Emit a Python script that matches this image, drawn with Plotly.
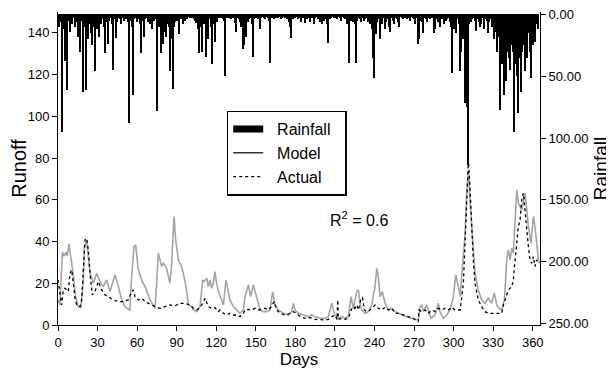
import plotly.graph_objects as go

# Daily rainfall (day 0 .. 364)
rain = [
    4, 10, 6, 95, 12, 38, 8, 61, 5, 14, 4, 8, 3, 10, 6, 18, 8, 30, 5, 63, 10, 61, 12, 20, 8, 15, 25, 10, 46, 6,
    12, 18, 5, 8, 4, 10, 31, 6, 24, 5, 3, 8, 45, 4, 19, 6, 3, 4, 8, 3, 5, 3, 4, 6, 88, 5, 10, 65, 4, 3,
    6, 4, 8, 31, 5, 18, 4, 3, 6, 4, 8, 12, 3, 5, 4, 78, 6, 10, 31, 8, 24, 14, 18, 8, 10, 46, 20, 60, 10, 6,
    5, 4, 16, 4, 3, 8, 5, 3, 4, 2, 3, 2, 3, 4, 5, 7, 12, 31, 10, 30, 5, 8, 34, 6, 20, 4, 10, 40, 8, 22,
    4, 6, 3, 2, 3, 4, 5, 50, 3, 2, 3, 4, 2, 3, 7, 14, 3, 4, 6, 10, 28, 25, 8, 18, 6, 4, 3, 8, 34, 4,
    3, 2, 4, 12, 3, 2, 3, 4, 2, 3, 5, 39, 3, 2, 4, 3, 2, 3, 2, 4, 3, 2, 3, 2, 4, 6, 10, 19, 4, 2,
    3, 2, 4, 3, 6, 2, 3, 7, 2, 4, 3, 6, 2, 3, 8, 3, 2, 4, 3, 6, 8, 3, 5, 4, 8, 23, 4, 3, 2, 3,
    2, 3, 4, 2, 3, 5, 2, 3, 4, 8, 6, 39, 5, 3, 6, 8, 39, 5, 3, 4, 6, 3, 5, 4, 3, 6, 4, 8, 12, 35,
    51, 16, 6, 4, 20, 5, 8, 3, 12, 6, 4, 10, 14, 3, 5, 8, 3, 4, 6, 10, 2, 3, 4, 3, 2, 4, 3, 5, 2, 3,
    4, 8, 3, 24, 20, 5, 6, 15, 3, 4, 6, 3, 4, 2, 3, 15, 12, 4, 6, 3, 10, 4, 3, 8, 5, 4, 3, 6, 10, 47,
    12, 6, 15, 4, 8, 46, 30, 20, 12, 72, 75, 122, 8, 6, 4, 3, 5, 13, 4, 6, 10, 8, 3, 12, 4, 5, 15, 6, 4, 10,
    8, 20, 14, 30, 18, 77, 25, 40, 65, 20, 54, 30, 35, 45, 25, 30, 95, 40, 50, 80, 35, 63, 30, 25, 46, 20, 35, 15, 30, 51,
    25, 10, 22, 8, 12,
]
rain_days = list(range(len(rain)))

model_days = [
    0, 1.5, 3.3, 4.5, 6, 7, 8.3, 10, 11.6, 13.4, 15.4, 17.4, 19.2, 20, 21.7, 24.3, 26.8, 29.3, 31.9, 34.4,
    36.9, 39.4, 43.2, 45.8, 48.3, 50.8, 53.3, 54.5, 55.5, 57.6, 58.9, 60.9, 63.9, 66, 69.8, 73.6, 74.8, 76.1,
    78.6, 79.9, 82.4, 84.9, 86.2, 88, 89.2, 91.3, 93.3, 95, 97.1, 98.9, 101.4,
    102.6, 105.2, 107.7, 109.7, 110.7, 112.8, 114, 115.3, 116.5, 117.8, 119, 120.3, 121.6, 124.1, 125.4,
    127.4, 129.2, 130.4, 133, 135.5, 138, 140.6, 141.8, 144.4, 146.1, 148.1, 150.7, 153.2, 155.7, 158.2,
    160.8, 162.8, 164.6, 167.1, 170.9, 174.7, 177.2, 178.5, 179.7, 182.3, 186, 189.9, 192.4, 194.9, 198.7,
    202.5, 205.1,
    206.3, 207.5, 208.8, 210.1, 212.6, 215.1, 217.7, 220.2, 222.2, 224, 226.5, 227.8, 229, 230.3, 232.8,
    235.4, 237.9, 240.4, 241.7, 242.9, 244.2, 246, 248, 250.6, 253.1, 255.6, 258.1, 260.7, 264.4, 268.3,
    270.8, 273.2, 274.6, 275.8, 277.1, 279.6, 280.9, 282.9, 285.9, 288.4, 289.7, 292.2, 294.8, 297.3,
    299.8, 301.6, 303.6, 305,
    306.1, 307.4, 308.7, 309.9, 311.2, 312.4, 313.7, 316.2, 318.7, 321.3, 323.8, 326.3, 328.8, 330.9,
    332.7, 334.4, 336.5, 338.5, 340.3, 341.5, 342.8, 344.1, 345.3, 347.9, 349.1, 351.6, 354.2, 355.4,
    356.7, 358.7, 360.5, 361.7, 363, 364.3, 365,
]
model_runoff = [
    12, 9.6, 35, 33, 35, 33, 39, 32, 24, 13.6, 8.8, 8.3, 20.8, 37.6, 40, 24.8, 20, 24.8, 20.8, 18.4,
    21.6, 16, 24, 18.4, 12, 8.7, 7.5, 7.2, 20, 37.6, 38.4, 26.4, 20.8, 18.4, 12, 8, 20, 34.4,
    28, 29.6, 27.2, 20, 29.6, 52, 41, 31, 28.8, 24.8, 18.4, 9.6, 8.8,
    7.2, 6.4, 8.8, 21.6, 20.8, 22.4, 18.4, 21.6, 17.6, 20, 25.6, 20, 16, 12, 9.6,
    21.6, 16, 12, 8.8, 7.2, 5.6, 7.2, 13.6, 19.2, 13.6, 19.2, 13.6, 7.2, 6.4, 6.4,
    7.2, 16, 9.6, 7.2, 5.6, 4.8, 6.4, 10.4, 7.2, 5.6, 4.8, 4.0, 4.8, 4.0, 3.2,
    3.2, 4.0,
    7.2, 10.4, 7.2, 4.8, 3.2, 4.0, 3.2, 4.0, 13.6, 8.0, 16, 16.8, 10.4, 7.2, 5.6,
    6.4, 9.6, 18.4, 27.2, 23.2, 13.6, 16, 10.4, 7.2, 8.0, 6.4, 5.6, 4.8, 4.0, 3.2,
    2.7, 2.4, 8.8, 9.6, 6.4, 9.6, 7.2, 3.2, 4.8, 10.4, 6.4, 3.2, 4.8, 7.2,
    13.6, 24, 18.4, 13.6,
    23.2, 34.4, 44, 63.2, 74, 60, 47.2, 24.8, 16.8, 12, 10.4, 12.8, 10.4, 15.2,
    9.6, 8, 7.2, 12, 31.2, 36, 31.2, 36.8, 34.4, 64.8, 58.4, 55.2, 63.2, 55.2,
    47.2, 39.2, 52, 47.2, 37.6, 31.2, 30,
]

actual_days = [
    0, 1.5, 2.8, 4.0, 5.3, 7.8, 9.1, 10.4, 11.6, 12.9, 14.2, 16.7, 17.9, 19.2, 20.5, 21.7, 23, 24.3, 26, 28,
    30.6, 33.1, 35.6, 38.2, 41.9, 45.8, 49.5, 53.3, 55.9, 57.1, 58.4, 60.9, 63.5, 66, 68.5, 73.6, 77.4,
    81.2, 84.9, 88.7, 92.5, 96.3, 100.1, 102.6,
    105.2, 107.7, 109.7, 111.5, 112.8, 114, 116.5, 119, 121.6, 122.8, 125.4, 128, 130.4, 133, 135.5, 138,
    140.6, 141.8, 144.4, 146.8, 149.4, 151.9, 154.4, 157, 159.5, 161.8, 163.8, 165.8, 168.4, 172.2, 176,
    178.5, 181, 183.6, 187.4, 191.2, 194.9, 198.7, 202.5, 205,
    207.5, 210.1, 211.6, 212.1, 212.6, 215.1, 217.7, 220.2, 222.2, 224, 225.2, 226.5, 227.8, 229.8, 230.9,
    232.3, 234, 236.6, 239.2, 240.4, 242.9, 245.5, 248, 250.6, 253.1, 255.6, 258.1, 261.9, 265.7, 269.5,
    272.6, 273.3, 273.7, 275.8, 278.4, 280.9, 283.5, 286, 288.4, 291, 293.5, 296, 298.6, 301.1, 303.6,
    305, 306.2, 307.4,
    308.7, 309.9, 311.2, 312.4, 313.7, 314.9, 316.2, 318.7, 321.3, 323.8, 326.3, 328.8, 331, 334.4, 336.5,
    337.7, 339, 341.5, 344.1, 345.3, 346.6, 347.9, 349.1, 350.4, 351.6, 352.9, 354.2, 355.4, 356.7, 357.9,
    359.2, 360.5, 361.7, 363, 364.3, 365,
]
actual_runoff = [
    21.6, 14, 9.6, 16.8, 17.6, 16, 24.8, 26.4, 18.4, 12.8, 9.6, 8.8, 12, 26.4, 40.8, 41.6, 36, 24.8, 14.4, 16,
    20.8, 16.8, 14.4, 13.6, 12, 11.2, 11.2, 12, 16, 16.8, 13.6, 12, 12.8, 11.2, 10.4, 8.8, 8.0,
    8.8, 9.6, 9.2, 10.4, 10.4, 9.6, 8.0,
    7.2, 8.5, 10.4, 12.8, 10.8, 8.8, 8.0, 8.3, 6.4, 7.2, 5.6, 4.8, 5.6, 4.8, 4.8, 4.0,
    5.6, 7.2, 7.5, 7.2, 8.0, 7.2, 7.5, 8.0, 7.2, 8.8, 11.2, 7.2, 5.6, 4.8, 5.6,
    6.4, 5.6, 4.0, 3.2, 3.5, 2.7, 2.4, 2.4, 2.7,
    4.0, 4.8, 2.7, 12, 2.7, 3.2, 2.7, 3.2, 7.2, 8.8, 8.0, 9.6, 7.2, 12.8, 13.2,
    7.2, 6.4, 7.2, 8.8, 9.6, 8.0, 7.2, 8.5, 7.2, 8.0, 5.6, 5.6, 4.8, 4.0, 3.2,
    1.6, 1.6, 7.2, 6.4, 7.2, 5.6, 7.2, 6.4, 8.0, 7.2, 8.0, 7.2, 8.5, 7.2, 7.2,
    7.2, 13.6, 20,
    40, 60, 79, 66, 47.2, 31.2, 20, 12, 8.8, 6.4, 5.6, 5.6, 5.6, 5.6, 5.6,
    9.6, 12, 16.8, 18.4, 21.6, 31.2, 40.8, 47.2, 50.4, 60, 63.2, 53.6, 47.2, 37.6, 31.2,
    29.6, 32.8, 28, 31.2, 29.6, 30,
]

x_ticks = [0, 30, 60, 90, 120, 150, 180, 210, 240, 270, 300, 330, 360]
runoff_ticks = [0, 20, 40, 60, 80, 100, 120, 140]
rain_ticks = [0, 50, 100, 150, 200, 250]

FONT = "Liberation Sans, Arial, sans-serif"
NB = "\u00a0\u00a0"

fig = go.Figure()
fig.add_trace(go.Bar(x=rain_days, y=rain, yaxis="y2", width=0.9,
                     marker=dict(color="black", line=dict(width=0)), showlegend=False))
fig.add_trace(go.Scatter(x=model_days, y=model_runoff, mode="lines",
                         line=dict(color="#a4a4a4", width=1.6), showlegend=False))
fig.add_trace(go.Scatter(x=actual_days, y=actual_runoff, mode="lines",
                         line=dict(color="black", width=1.3, dash="dot"), showlegend=False))
# legend entries
fig.add_trace(go.Scatter(x=[None], y=[None], mode="lines", name=NB + "Rainfall" + NB,
                         line=dict(color="black", width=7)))
fig.add_trace(go.Scatter(x=[None], y=[None], mode="lines", name=NB + "Model",
                         line=dict(color="#333333", width=1.5)))
fig.add_trace(go.Scatter(x=[None], y=[None], mode="lines", name=NB + "Actual",
                         line=dict(color="black", width=1.2, dash="dot")))

# The page body adds an 8px offset; figure is sized to fill the rest of the window.
fig.update_layout(
    width=606, height=368,
    margin=dict(l=50, r=74, t=4, b=51),
    paper_bgcolor="white", plot_bgcolor="white",
    font=dict(family=FONT, color="black", size=13),
    bargap=0,
    legend=dict(x=0.35, y=0.685, xanchor="left", yanchor="top",
                bordercolor="black", borderwidth=1.5, bgcolor="white",
                font=dict(size=16, family=FONT), tracegroupgap=0, itemwidth=30),
    xaxis=dict(range=[0, 365.5], tickvals=x_ticks, showline=True, linecolor="black",
               linewidth=1, ticks="outside", ticklen=5, tickcolor="black",
               showgrid=False, zeroline=False, automargin=False,
               title=dict(text="Days", font=dict(size=17), standoff=2),
               tickfont=dict(size=13)),
    yaxis=dict(range=[0, 150], tickvals=runoff_ticks, showline=True, linecolor="black",
               linewidth=1, ticks="outside", ticklen=5, tickcolor="black",
               showgrid=False, zeroline=False, automargin=False,
               title=dict(text="Runoff", font=dict(size=20), standoff=2),
               tickfont=dict(size=13)),
    yaxis2=dict(range=[251.2, -2.0], overlaying="y", side="right", tickvals=rain_ticks,
                tickformat=".2f", showline=True, linecolor="black", linewidth=1,
                ticks="outside", ticklen=5, tickcolor="black", showgrid=False, zeroline=False,
                automargin=False, ticklabeloverflow="allow",
                title=dict(text="Rainfall", font=dict(size=19), standoff=6),
                tickfont=dict(size=13)),
    annotations=[dict(x=0.625, y=0.30, xref="paper", yref="paper",
                      text="R<sup>2</sup> = 0.6", showarrow=False,
                      font=dict(size=16, family=FONT))],
)

fig.write_html("out.html")
